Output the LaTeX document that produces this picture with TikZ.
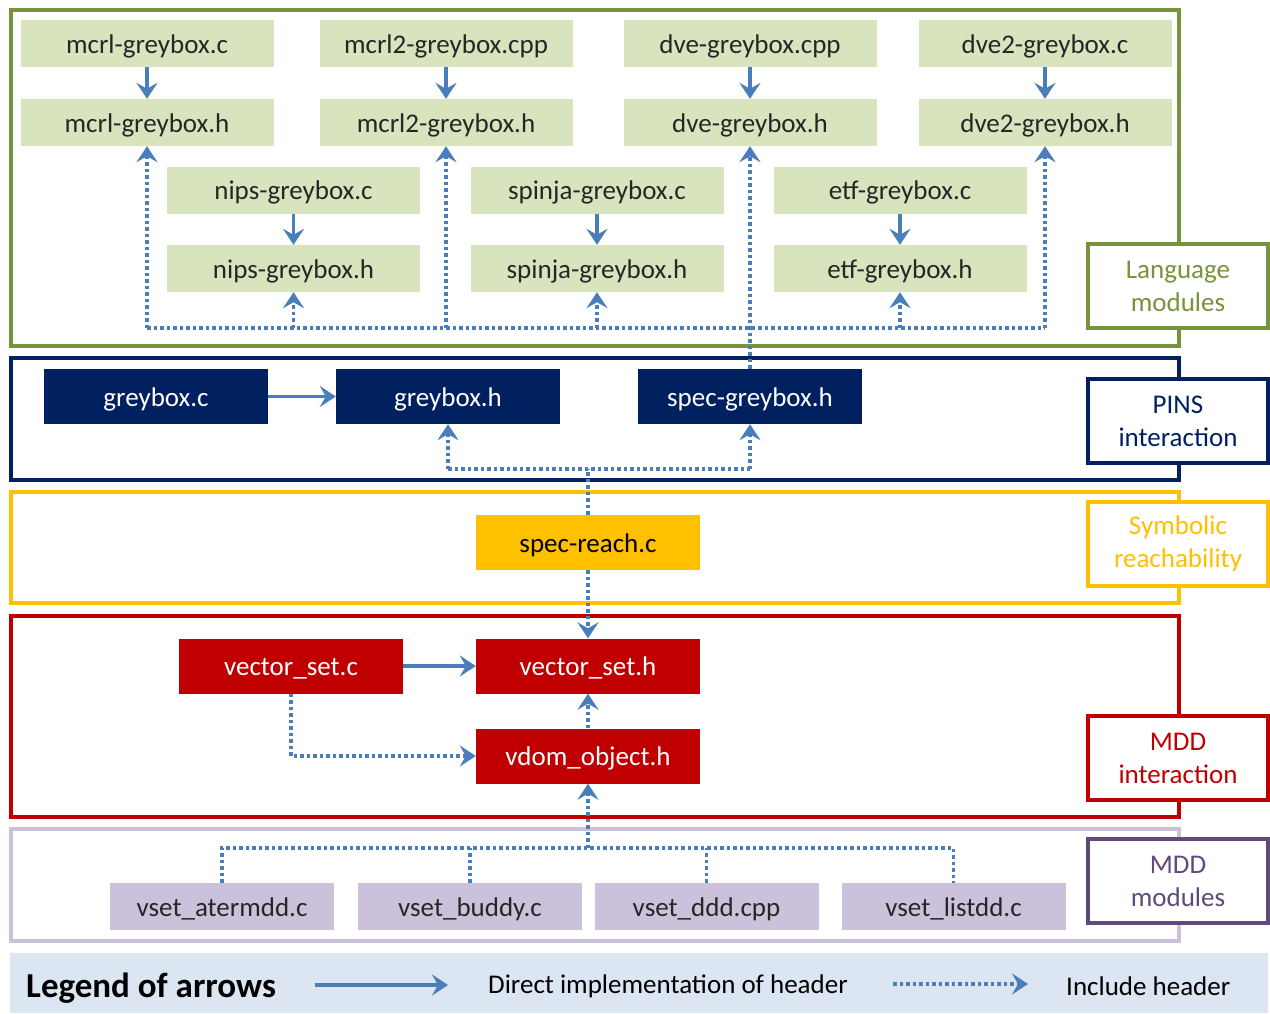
\documentclass[tikz,border=0pt]{standalone}
\usepackage{fontspec}
\setmainfont{Carlito}
\usetikzlibrary{arrows.meta}
\definecolor{langline}{HTML}{77933C}
\definecolor{langfill}{HTML}{D7E4BD}
\definecolor{pinsblue}{HTML}{002060}
\definecolor{symyellow}{HTML}{FFC000}
\definecolor{mddred}{HTML}{C00000}
\definecolor{modfill}{HTML}{CCC1DA}
\definecolor{modline}{HTML}{604A7B}
\definecolor{legfill}{HTML}{DCE6F2}
\definecolor{arrowblue}{HTML}{4A7EBB}

\begin{document}
\begin{tikzpicture}[x=1pt,y=-1pt,
    txt/.style={font=\fontsize{27}{33}\selectfont},
    filebox/.style={txt,text height=22pt,text depth=3pt,inner sep=0pt},
    langfile/.style={filebox,fill=langfill,text=black!85,minimum width=253pt,minimum height=47pt},
    pinsfile/.style={filebox,fill=pinsblue,text=white,minimum width=224pt,minimum height=55pt},
    reachfile/.style={filebox,fill=symyellow,text=black,minimum width=224pt,minimum height=55pt},
    mddfile/.style={filebox,fill=mddred,text=white,minimum width=224pt,minimum height=55pt},
    modfile/.style={filebox,fill=modfill,text=black!85,minimum width=224pt,minimum height=47pt},
    frame/.style={line width=4pt},
    tag/.style={txt,draw,line width=4pt,fill=white,align=center,minimum width=180pt,minimum height=84pt,inner sep=0pt},
    impl/.style={draw=arrowblue,line width=3.5pt,-{Stealth[length=16pt,width=21pt,inset=6pt]}},
    inclline/.style={draw=arrowblue,line width=3.5pt,dash pattern=on 3.5pt off 3pt},
    incl/.style={inclline,-{Stealth[length=16pt,width=21pt,inset=6pt]}}]
  \useasboundingbox (0,0) rectangle (1270,1013);

  % layer frames
  \draw[frame,langline] (11,10) rectangle (1179,346);
  \draw[frame,pinsblue] (11,358) rectangle (1179,480);
  \draw[frame,symyellow] (11,492) rectangle (1179,603);
  \draw[frame,mddred] (11,616) rectangle (1179,817);
  \draw[frame,modfill] (11,829) rectangle (1179,941);

  \node[tag,draw=langline,text=langline] (langtag) at (1178,286) {Language\\modules};
  \node[tag,draw=pinsblue,text=pinsblue] (pinstag) at (1178,421) {PINS\\interaction};
  \node[tag,draw=symyellow,text=symyellow] (symtag) at (1178,544) {Symbolic\\reachability};
  \node[tag,draw=mddred,text=mddred] (mddtag) at (1178,758) {MDD\\interaction};
  \node[tag,draw=modline,text=modline] (modtag) at (1178,881) {MDD\\modules};

  % language modules
  \node[langfile] (mcrlc) at (147,43.5) {mcrl-greybox.c};
  \node[langfile] (mcrlh) at (147,122.5) {mcrl-greybox.h};
  \node[langfile] (mcrltwoc) at (446,43.5) {mcrl2-greybox.cpp};
  \node[langfile] (mcrltwoh) at (446,122.5) {mcrl2-greybox.h};
  \node[langfile] (dvec) at (750,43.5) {dve-greybox.cpp};
  \node[langfile] (dveh) at (750,122.5) {dve-greybox.h};
  \node[langfile] (dvetwoc) at (1045,43.5) {dve2-greybox.c};
  \node[langfile] (dvetwoh) at (1045,122.5) {dve2-greybox.h};
  \node[langfile] (nipsc) at (293.5,190) {nips-greybox.c};
  \node[langfile] (nipsh) at (293.5,268.5) {nips-greybox.h};
  \node[langfile] (spinjac) at (597,190) {spinja-greybox.c};
  \node[langfile] (spinjah) at (597,268.5) {spinja-greybox.h};
  \node[langfile] (etfc) at (900,190) {etf-greybox.c};
  \node[langfile] (etfh) at (900,268.5) {etf-greybox.h};

  \foreach \src/\dst in {mcrlc/mcrlh,mcrltwoc/mcrltwoh,dvec/dveh,dvetwoc/dvetwoh,nipsc/nipsh,spinjac/spinjah,etfc/etfh}
    \draw[impl] (\src.south) -- (\dst.north);

  % PINS
  \node[pinsfile] (gbc) at (156,396.5) {greybox.c};
  \node[pinsfile] (gbh) at (448,396.5) {greybox.h};
  \node[pinsfile] (specgb) at (750,396.5) {spec-greybox.h};
  \draw[impl] (gbc) -- (gbh);

  \coordinate (langbus) at (0,328);
  \draw[inclline] (mcrlh.south |- langbus) -- (dvetwoh.south |- langbus);
  \foreach \hdr in {mcrlh,mcrltwoh,nipsh,spinjah,etfh,dvetwoh}
    \draw[incl] (\hdr.south |- langbus) -- (\hdr.south);
  \draw[incl] (specgb.north) -- (dveh.south);

  % symbolic reachability
  \node[reachfile] (reach) at (588,542.5) {spec-reach.c};
  \coordinate (pinsbus) at (0,469);
  \draw[inclline] (gbh.south |- pinsbus) -- (specgb.south |- pinsbus);
  \draw[incl] (gbh.south |- pinsbus) -- (gbh.south);
  \draw[incl] (specgb.south |- pinsbus) -- (specgb.south);
  \draw[inclline] (reach.north) -- (reach.north |- pinsbus);

  % MDD interaction
  \node[mddfile] (vsc) at (291,666) {vector\_set.c};
  \node[mddfile] (vsh) at (588,666) {vector\_set.h};
  \node[mddfile] (vdom) at (588,756) {vdom\_object.h};
  \draw[incl] (reach.south) -- (vsh.north);
  \draw[impl] (vsc) -- (vsh);
  \draw[incl] (vsc.south) |- (vdom.west);
  \draw[incl] (vdom.north) -- (vsh.south);

  % MDD modules
  \node[modfile] (atermdd) at (222,906.5) {vset\_atermdd.c};
  \node[modfile] (buddy) at (470,906.5) {vset\_buddy.c};
  \node[modfile] (ddd) at (706.5,906.5) {vset\_ddd.cpp};
  \node[modfile] (listdd) at (953.5,906.5) {vset\_listdd.c};
  \coordinate (modbus) at (0,848);
  \draw[inclline] (atermdd.north) |- (listdd.north |- modbus) -- (listdd.north);
  \draw[inclline] (buddy.north) -- (buddy.north |- modbus);
  \draw[inclline] (ddd.north) -- (ddd.north |- modbus);
  \draw[incl] (vdom.south |- modbus) -- (vdom.south);

  % legend
  \fill[legfill] (10,953) rectangle (1268,1013);
  \node[font=\fontsize{35}{40}\selectfont\bfseries,anchor=west,inner sep=0pt] (legtitle) at (26,988) {Legend of arrows};
  \coordinate (implfrom) at (315,985);
  \coordinate (implto) at (448,985);
  \draw[impl] (implfrom) -- (implto);
  \node[txt,anchor=west,inner sep=0pt] (impltext) at (488,986) {Direct implementation of header};
  \coordinate (inclfrom) at (893,984);
  \coordinate (inclto) at (1028,984);
  \draw[incl] (inclfrom) -- (inclto);
  \node[txt,anchor=west,inner sep=0pt] (incltext) at (1066,986) {Include header};
\end{tikzpicture}
\end{document}
